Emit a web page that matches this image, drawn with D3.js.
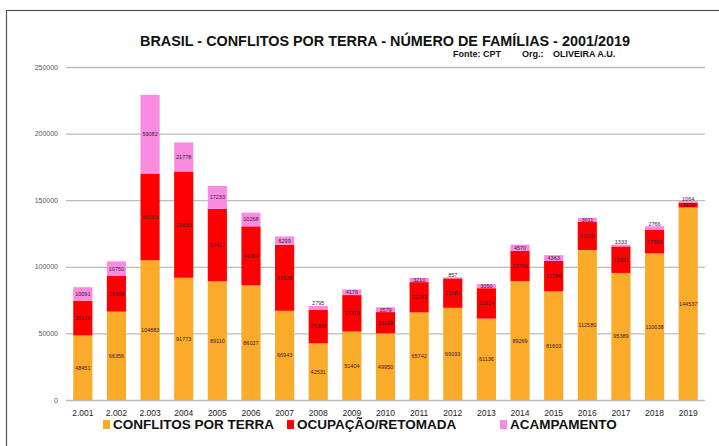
<!DOCTYPE html>
<html>
<head>
<meta charset="utf-8">
<script src="https://cdn.jsdelivr.net/npm/d3@7"></script>
<style>
  body { margin: 0; background: #fff; }
  svg { font-family: "Liberation Sans", Arial, sans-serif; }
</style>
</head>
<body>
<svg width="719" height="446"></svg>
<script>
const years = ["2.001", "2.002", "2.003", "2004", "2005", "2006", "2007", "2008", "2009", "2010",
               "2011", "2012", "2013", "2014", "2015", "2016", "2017", "2018", "2019"];
const conflitos = [48451, 66356, 104883, 91773, 89110, 86027, 66943, 42531, 51404, 49950,
                   65742, 69193, 61136, 89269, 81603, 112580, 95389, 110038, 144537];
const ocupacao = [26120, 26958, 65153, 79830, 54427, 44364, 49538, 25309, 27378, 16058,
                  22783, 22083, 22824, 22796, 22786, 21128, 19921, 17598, 3670];
const acampamento = [10091, 10750, 59082, 21778, 17233, 10268, 6299, 2795, 4176, 3579,
                     3210, 857, 3050, 4570, 4363, 3011, 1333, 2766, 1064];
const yTicks = [0, 50000, 100000, 150000, 200000, 250000];
const seriesNames = ["CONFLITOS POR TERRA", "OCUPAÇÃO/RETOMADA", "ACAMPAMENTO"];
const colors = ["#FBAB2A", "#FF0000", "#F78CE0"];

const svg = d3.select("svg");

// moldura
svg.append("rect")
    .attr("x", 6.5).attr("y", 10.5)
    .attr("width", 720).attr("height", 440)
    .attr("fill", "none").attr("stroke", "#555").attr("stroke-width", 1.2);

const rows = years.map((y, i) => ({year: y, c: conflitos[i], o: ocupacao[i], a: acampamento[i]}));
const stack = d3.stack().keys(["c", "o", "a"])(rows);

const x = d3.scaleBand().domain(years).range([66, 705]).paddingInner(0.43).paddingOuter(0.215);
const y = d3.scaleLinear().domain([0, 250000]).range([400, 67]);

// grade
svg.append("g").selectAll("line")
    .data(yTicks)
    .enter().append("line")
        .attr("x1", 66).attr("x2", 705)
        .attr("y1", d => y(d) + 0.5).attr("y2", d => y(d) + 0.5)
        .attr("stroke", "#bdbdbd").attr("stroke-width", 1.3);

svg.append("g").selectAll("text")
    .data(yTicks)
    .enter().append("text")
        .attr("x", 58).attr("y", d => y(d) + 2.5)
        .attr("text-anchor", "end")
        .attr("font-size", 7).attr("fill", "#555")
        .text(d => d);

// barras
const layer = svg.append("g").selectAll("g")
    .data(stack)
    .enter().append("g")
        .attr("fill", (d, i) => colors[i]);

layer.selectAll("rect")
    .data(d => d)
    .enter().append("rect")
        .attr("x", d => x(d.data.year))
        .attr("width", x.bandwidth())
        .attr("y", d => y(d[1]))
        .attr("height", d => y(d[0]) - y(d[1]));

layer.selectAll("text")
    .data(d => d)
    .enter().append("text")
        .attr("x", d => x(d.data.year) + x.bandwidth() / 2)
        .attr("y", d => {
            const h = y(d[0]) - y(d[1]);
            // segmento muito fino: texto encostado no topo
            if (h < 4) return y(d[1]) - 0.5;
            return (y(d[0]) + y(d[1])) / 2 + 2;
        })
        .attr("text-anchor", "middle")
        .attr("font-size", 5.5).attr("fill", "#3a2030")
        .text(d => d[1] - d[0]);

svg.append("g").selectAll("text")
    .data(years)
    .enter().append("text")
        .attr("x", d => x(d) + x.bandwidth() / 2)
        .attr("y", 416)
        .attr("text-anchor", "middle")
        .attr("font-size", 8.5).attr("fill", "#222")
        .text(d => d);

// titulo
svg.append("text")
    .attr("x", 385).attr("y", 46)
    .attr("text-anchor", "middle")
    .attr("font-size", 14.4).attr("font-weight", "bold").attr("fill", "#111")
    .text("BRASIL - CONFLITOS POR TERRA - NÚMERO DE FAMÍLIAS - 2001/2019");

const fonte = [["Fonte: CPT", 453], ["Org.:", 522], ["OLIVEIRA A.U.", 553]];
svg.append("g").selectAll("text")
    .data(fonte)
    .enter().append("text")
        .attr("x", d => d[1]).attr("y", 57)
        .attr("font-size", 9).attr("font-weight", "bold").attr("fill", "#111")
        .text(d => d[0]);

// legenda
const legendX = [103, 287, 500];
const legend = svg.append("g").selectAll("g")
    .data(seriesNames)
    .enter().append("g")
        .attr("transform", (d, i) => `translate(${legendX[i]},429)`);
legend.append("rect")
    .attr("x", 0).attr("y", -9).attr("width", 7).attr("height", 9)
    .attr("fill", (d, i) => colors[i]);
legend.append("text")
    .attr("x", 10).attr("y", 0)
    .attr("font-size", 13.5).attr("font-weight", "bold").attr("fill", "#111")
    .text(d => d);
</script>
</body>
</html>
